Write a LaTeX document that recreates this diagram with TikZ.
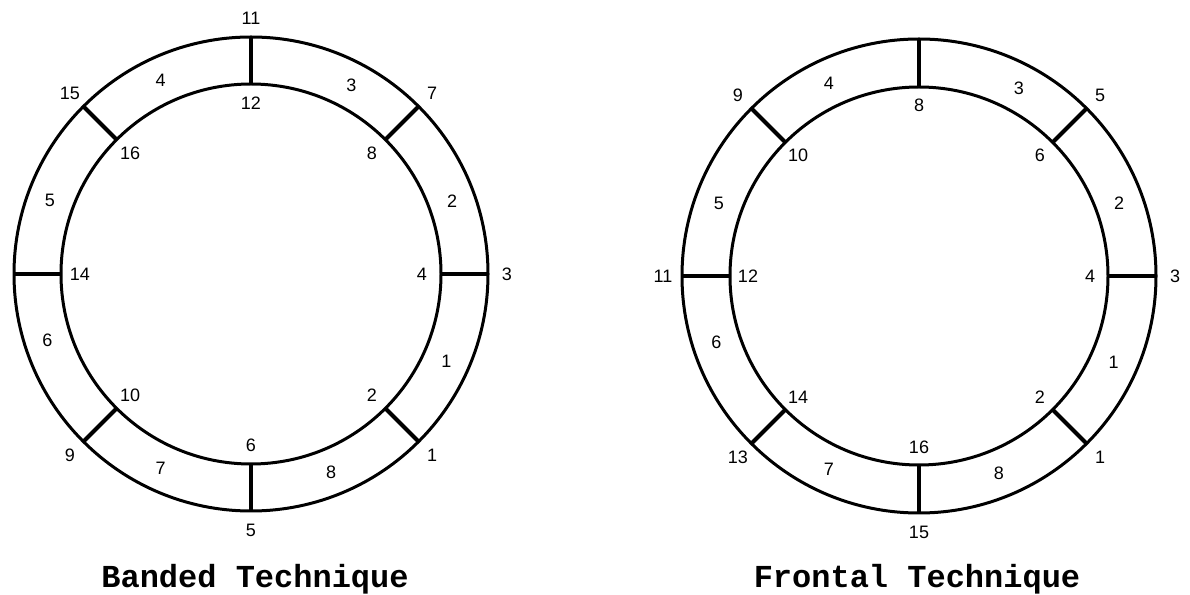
\documentclass[tikz,border=0pt]{standalone}
\usepackage{fontspec}
\setmainfont{Liberation Sans}
\newfontfamily\typewriter{Liberation Mono}

\begin{document}
\begin{tikzpicture}[x=0.5pt, y=0.5pt,
    ring/.style={line width=1.5pt},
    divider/.style={line width=2pt},
    num/.style={font=\fontsize{9}{9}\selectfont, inner sep=0pt},
    caption/.style={font=\typewriter\bfseries\fontsize{16}{16}\selectfont, anchor=base}]
    \useasboundingbox (0,0) rectangle (1190,595);
    % banded technique
    \coordinate (b) at (251,321);
    \draw[ring] (b) circle[radius=237];
    \draw[ring] (b) circle[radius=190];
    \begin{scope}[shift={(b)}]
        \foreach \a/\o/\i in {0/3/4, 45/7/8, 90/11/12, 135/15/16, 180//14, 225/9/10, 270/5/6, 315/1/2} {
            \draw[divider] (\a:190) -- (\a:237);
            \node[num] (b-o\a) at (\a:256) {\o};
            \node[num] (b-i\a) at (\a:171) {\i};
        }
        \foreach \a/\s in {20/2, 62/3, 115/4, 160/5, 198/6, 245/7, 292/8, 336/1}
            \node[num] (b-s\s) at (\a:214) {\s};
    \end{scope}
    \node[caption] (b-title) at (255,8) {Banded Technique};
    % frontal technique
    \coordinate (f) at (919,319);
    \draw[ring] (f) circle[radius=237];
    \draw[ring] (f) circle[radius=189];
    \begin{scope}[shift={(f)}]
        \foreach \a/\o/\i in {0/3/4, 45/5/6, 90//8, 135/9/10, 180/11/12, 225/13/14, 270/15/16, 315/1/2} {
            \draw[divider] (\a:189) -- (\a:237);
            \node[num] (f-o\a) at (\a:256) {\o};
            \node[num] (f-i\a) at (\a:171) {\i};
        }
        \foreach \a/\s in {20/2, 62/3, 115/4, 160/5, 198/6, 245/7, 292/8, 336/1}
            \node[num] (f-s\s) at (\a:213) {\s};
    \end{scope}
    \node[caption] (f-title) at (917,8) {Frontal Technique};
\end{tikzpicture}
\end{document}
